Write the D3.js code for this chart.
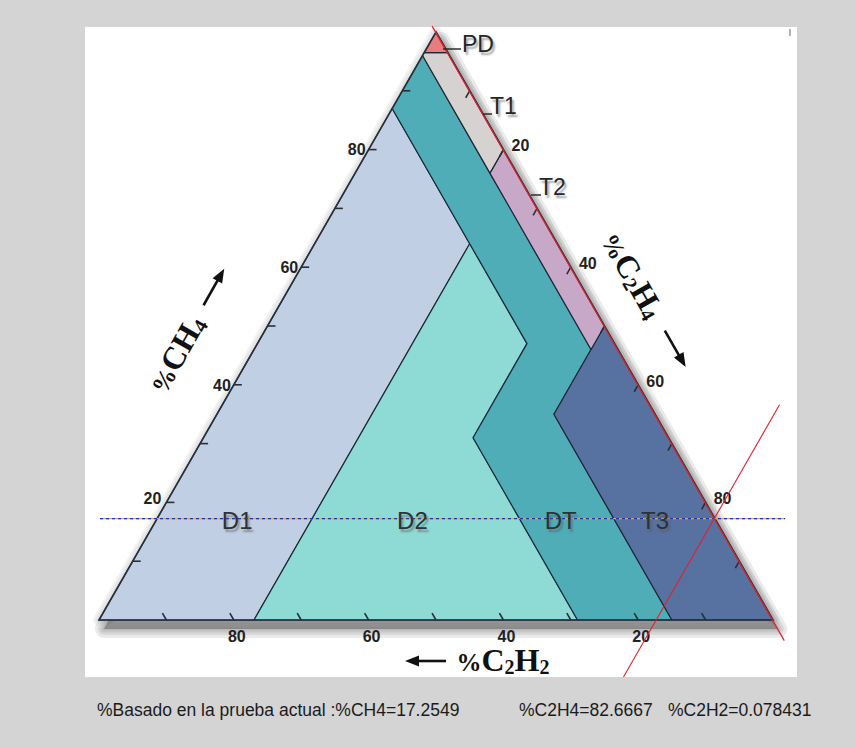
<!DOCTYPE html>
<html>
<head>
<meta charset="utf-8">
<script src="https://cdn.jsdelivr.net/npm/d3@7/dist/d3.min.js"></script>
<style>
  body { margin: 0; background: #d4d4d4; }
  svg { display: block; }
  .shadowed { text-shadow: 2px 3px 2px rgba(90, 90, 90, 0.55); }
</style>
</head>
<body>
<div id="chart"></div>
<script>
// Duval triangle 1 — every composition is [CH4, C2H4, C2H2] in %
const zoneNames  = ['D1', 'D2', 'DT', 'T3', 'T2', 'T1', 'PD'];
const zoneColors = ['#c1cfe5', '#8ddbd4', '#4fadb7', '#5771a0', '#c8a8c8', '#d6d2d2', '#e87d80'];
const zonePolygons = [
  [[0, 0, 100], [87, 0, 13], [64, 23, 13], [0, 23, 77]],
  [[64, 23, 13], [47, 40, 13], [31, 40, 29], [0, 71, 29], [0, 23, 77]],
  [[96, 0, 4], [87, 0, 13], [64, 23, 13], [47, 40, 13], [31, 40, 29], [0, 71, 29], [0, 85, 15], [35, 50, 15], [46, 50, 4], [76, 20, 4]],
  [[50, 50, 0], [0, 100, 0], [0, 85, 15], [35, 50, 15]],
  [[80, 20, 0], [50, 50, 0], [46, 50, 4], [76, 20, 4]],
  [[96.5, 3.5, 0], [80, 20, 0], [76, 20, 4], [96, 0, 4], [96.5, 0, 3.5]],
  [[100, 0, 0], [96.5, 3.5, 0], [96.5, 0, 3.5]]
];
// inner zone labels (D1, D2, DT, T3)
const innerLabels   = ['D1', 'D2', 'DT', 'T3'];
const innerLabelPos = [[17, 12, 71], [17, 38, 45], [17, 60, 23], [17, 74, 9]];

const tickValues = [10, 20, 30, 40, 50, 60, 70, 80, 90];
const tickLabels = [20, 40, 60, 80];

// current test
const testCH4  = 17.2549;
const testC2H4 = 82.6667;
const testC2H2 = 0.078431;
// how far each result line is drawn (CH4 range for the slanted ones, C2H4-C2H2 range for the horizontal)
const c2h2LineCH4 = [101, -3.5];
const c2h4LineCH4 = [36.6, -9.7];
const ch4LineSpan = [-99.7, 103.6];

const W = 856, H = 748;
const svg = d3.select('#chart').append('svg').attr('width', W).attr('height', H)
  .style('font-family', 'Arial, "Liberation Sans", sans-serif');

const xScale = d3.scaleLinear().domain([-100, 100]).range([99, 773]); // C2H4 - C2H2
const yScale = d3.scaleLinear().domain([0, 100]).range([620, 32]);    // CH4
const proj = ([ch4, c2h4, c2h2]) => [xScale(c2h4 - c2h2), yScale(ch4)];

// background panel
svg.append('rect').attr('width', W).attr('height', H).attr('fill', '#d4d4d4');
svg.append('rect').attr('x', 85).attr('y', 27).attr('width', 712).attr('height', 650).attr('fill', '#ffffff');
svg.append('line').attr('x1', 790).attr('x2', 790).attr('y1', 29).attr('y2', 36)
  .attr('stroke', '#999').attr('stroke-width', 1.5);

const corners = [[100, 0, 0], [0, 100, 0], [0, 0, 100]];
const line = d3.line();
const triPath = line(corners.map(proj)) + 'Z';

// soft bevel round the triangle and drop shadow (stacked translucent strokes)
const gs = svg.append('g');
[12, 8, 4].forEach(w => gs.append('path').attr('d', triPath)
  .attr('fill', 'none').attr('stroke', '#9a9a9a').attr('stroke-opacity', 0.12)
  .attr('stroke-width', w).attr('stroke-linejoin', 'round'));
const gsh = svg.append('g').attr('transform', 'translate(5,9)');
[18, 12, 7, 3].forEach(w => gsh.append('path').attr('d', triPath)
  .attr('fill', '#6a6a6a').attr('fill-opacity', 0.2).attr('stroke', '#6a6a6a').attr('stroke-opacity', 0.14)
  .attr('stroke-width', w).attr('stroke-linejoin', 'round'));

// zones
svg.append('g').selectAll('path.zone')
  .data(zonePolygons)
  .join('path')
    .attr('class', 'zone')
    .attr('d', d => line(d.map(proj)) + 'Z')
    .attr('fill', (d, i) => zoneColors[i])
    .attr('stroke', '#1d2a36')
    .attr('stroke-width', 1.2)
    .attr('stroke-linejoin', 'round');

// triangle border
svg.append('path').attr('d', triPath)
  .attr('fill', 'none').attr('stroke', '#27313a').attr('stroke-width', 1.6);

// ticks
const unit = (p, q) => { const dx = q[0] - p[0], dy = q[1] - p[1], l = Math.hypot(dx, dy); return [dx / l, dy / l]; };
const A = proj(corners[0]), C = proj(corners[1]), B = proj(corners[2]);
const TL = 8;
const tickDefs = [
  { comp: v => [v, 0, 100 - v], dir: [1, 0] },          // CH4 on left edge
  { comp: v => [100 - v, v, 0], dir: unit(A, B) },      // C2H4 on right edge
  { comp: v => [0, 100 - v, v], dir: unit(C, A) }       // C2H2 on base
];
const gt = svg.append('g').attr('stroke', '#2a2f35').attr('stroke-width', 1.6);
tickDefs.forEach(t => {
  gt.selectAll(null).data(tickValues).join('line')
    .attr('x1', v => proj(t.comp(v))[0])
    .attr('y1', v => proj(t.comp(v))[1])
    .attr('x2', v => proj(t.comp(v))[0] + t.dir[0] * TL)
    .attr('y2', v => proj(t.comp(v))[1] + t.dir[1] * TL);
});

// tick labels
const gl = svg.append('g').attr('font-weight', 'bold').attr('font-size', 16).attr('fill', '#222');
gl.selectAll('text.l').data(tickLabels).join('text').attr('class', 'l')
  .attr('x', v => proj([v, 0, 100 - v])[0] - (v === 20 ? 5 : 3))
  .attr('y', v => proj([v, 0, 100 - v])[1] - (v === 20 ? 4 : 0))
  .attr('dy', '0.36em').attr('text-anchor', 'end').text(v => v);
gl.selectAll('text.r').data(tickLabels).join('text').attr('class', 'r')
  .attr('x', v => proj([100 - v, v, 0])[0] + 17)
  .attr('y', v => proj([100 - v, v, 0])[1] - 4)
  .attr('dy', '0.36em').attr('text-anchor', 'middle').text(v => v);
gl.selectAll('text.b').data(tickLabels).join('text').attr('class', 'b')
  .attr('x', v => proj([0, 100 - v, v])[0] + 3)
  .attr('y', 636)
  .attr('dy', '0.36em').attr('text-anchor', 'middle').text(v => v);

// test result lines
const gr = svg.append('g');
const hy = yScale(testCH4);
gr.append('line').attr('x1', xScale(ch4LineSpan[0])).attr('x2', xScale(ch4LineSpan[1]))
  .attr('y1', hy).attr('y2', hy).attr('stroke', '#d6b21a').attr('stroke-width', 1.2);
gr.append('line').attr('x1', xScale(ch4LineSpan[0])).attr('x2', xScale(ch4LineSpan[1]))
  .attr('y1', hy).attr('y2', hy).attr('stroke', '#1c2fd6').attr('stroke-width', 1.2)
  .attr('stroke-dasharray', '3,3');
const c2h2Pts = c2h2LineCH4.map(m => proj([m, 100 - testC2H2 - m, testC2H2]));
gr.append('path').attr('d', line(c2h2Pts)).attr('stroke', '#e3202c').attr('stroke-width', 1.2).attr('fill', 'none');
const c2h4Pts = c2h4LineCH4.map(m => proj([m, testC2H4, 100 - testC2H4 - m]));
gr.append('path').attr('d', line(c2h4Pts)).attr('stroke', '#e3202c').attr('stroke-width', 1.1).attr('fill', 'none');

// inner zone labels
svg.append('g').attr('text-anchor', 'middle').attr('font-size', 24).attr('fill', '#2e3136')
  .selectAll('text').data(innerLabels).join('text')
    .attr('class', 'shadowed')
    .attr('x', (d, i) => proj(innerLabelPos[i])[0])
    .attr('y', (d, i) => proj(innerLabelPos[i])[1] + 8.5)
    .text(d => d);

// outer labels with leaders: PD, T1, T2
const outer = [
  { t: 'PD', lx: [443, 461], ly: 49, tx: 462, ty: 52 },
  { t: 'T1', lx: [483, 492], ly: 114, tx: 490, ty: 114 },
  { t: 'T2', lx: [531, 541], ly: 195, tx: 539, ty: 195 }
];
const go = svg.append('g');
go.selectAll('line').data(outer).join('line')
  .attr('x1', d => d.lx[0]).attr('x2', d => d.lx[1]).attr('y1', d => d.ly).attr('y2', d => d.ly)
  .attr('stroke', '#222').attr('stroke-width', 1.4);
go.selectAll('text').data(outer).join('text')
  .attr('class', 'shadowed')
  .attr('x', d => d.tx).attr('y', d => d.ty)
  .attr('font-size', 23).attr('fill', '#262626')
  .text(d => d.t);

// axis titles
function title(g, parts) {
  const t = g.append('text').attr('font-family', '"Liberation Serif", "Times New Roman", serif')
    .attr('font-weight', 'bold').attr('fill', '#111').attr('text-anchor', 'middle');
  parts.forEach(p => {
    t.append('tspan').attr('font-size', p.s).attr('dy', p.dy || 0).text(p.c);
  });
  return t;
}
function arrow(g, x1, x2, y) {
  const dir = Math.sign(x2 - x1);
  g.append('line').attr('x1', x1).attr('x2', x2 - dir * 10).attr('y1', y).attr('y2', y)
    .attr('stroke', '#111').attr('stroke-width', 2.6);
  g.append('path').attr('d', `M${x2},${y}L${x2 - dir * 14},${y - 5.5}L${x2 - dir * 14},${y + 5.5}Z`).attr('fill', '#111');
}
const ch4Parts  = [{ c: '%', s: 25 }, { c: 'CH', s: 32 }, { c: '4', s: 20, dy: 3 }];
const c2h4Parts = [{ c: '%', s: 25 }, { c: 'C', s: 32 }, { c: '2', s: 20, dy: 3 }, { c: 'H', s: 32, dy: -3 }, { c: '4', s: 20, dy: 3 }];
const c2h2Parts = [{ c: '%', s: 25 }, { c: 'C', s: 32 }, { c: '2', s: 20, dy: 3 }, { c: 'H', s: 32, dy: -3 }, { c: '2', s: 20, dy: 3 }];

const gL = svg.append('g').attr('transform', 'translate(176,354) rotate(-60.5)');
title(gL, ch4Parts).attr('x', 0).attr('y', 11);
arrow(gL, 56, 98, 0);

const gR = svg.append('g').attr('transform', 'translate(633,275) rotate(60.2)');
title(gR, c2h4Parts).attr('x', 0).attr('y', 11);
arrow(gR, 64, 106, 0);

const gB = svg.append('g');
title(gB, c2h2Parts).attr('x', 503).attr('y', 671);
arrow(gB, 446, 405, 661);

// footer text
const foot = [
  { t: `%Basado en la prueba actual :%CH4=${testCH4}`, x: 97 },
  { t: `%C2H4=${testC2H4}`, x: 519 },
  { t: `%C2H2=${testC2H2}`, x: 668 }
];
svg.append('g').attr('font-size', 17.5).attr('fill', '#1b1b1b')
  .selectAll('text').data(foot).join('text')
    .attr('x', d => d.x).attr('y', 716).text(d => d.t);
</script>
</body>
</html>
